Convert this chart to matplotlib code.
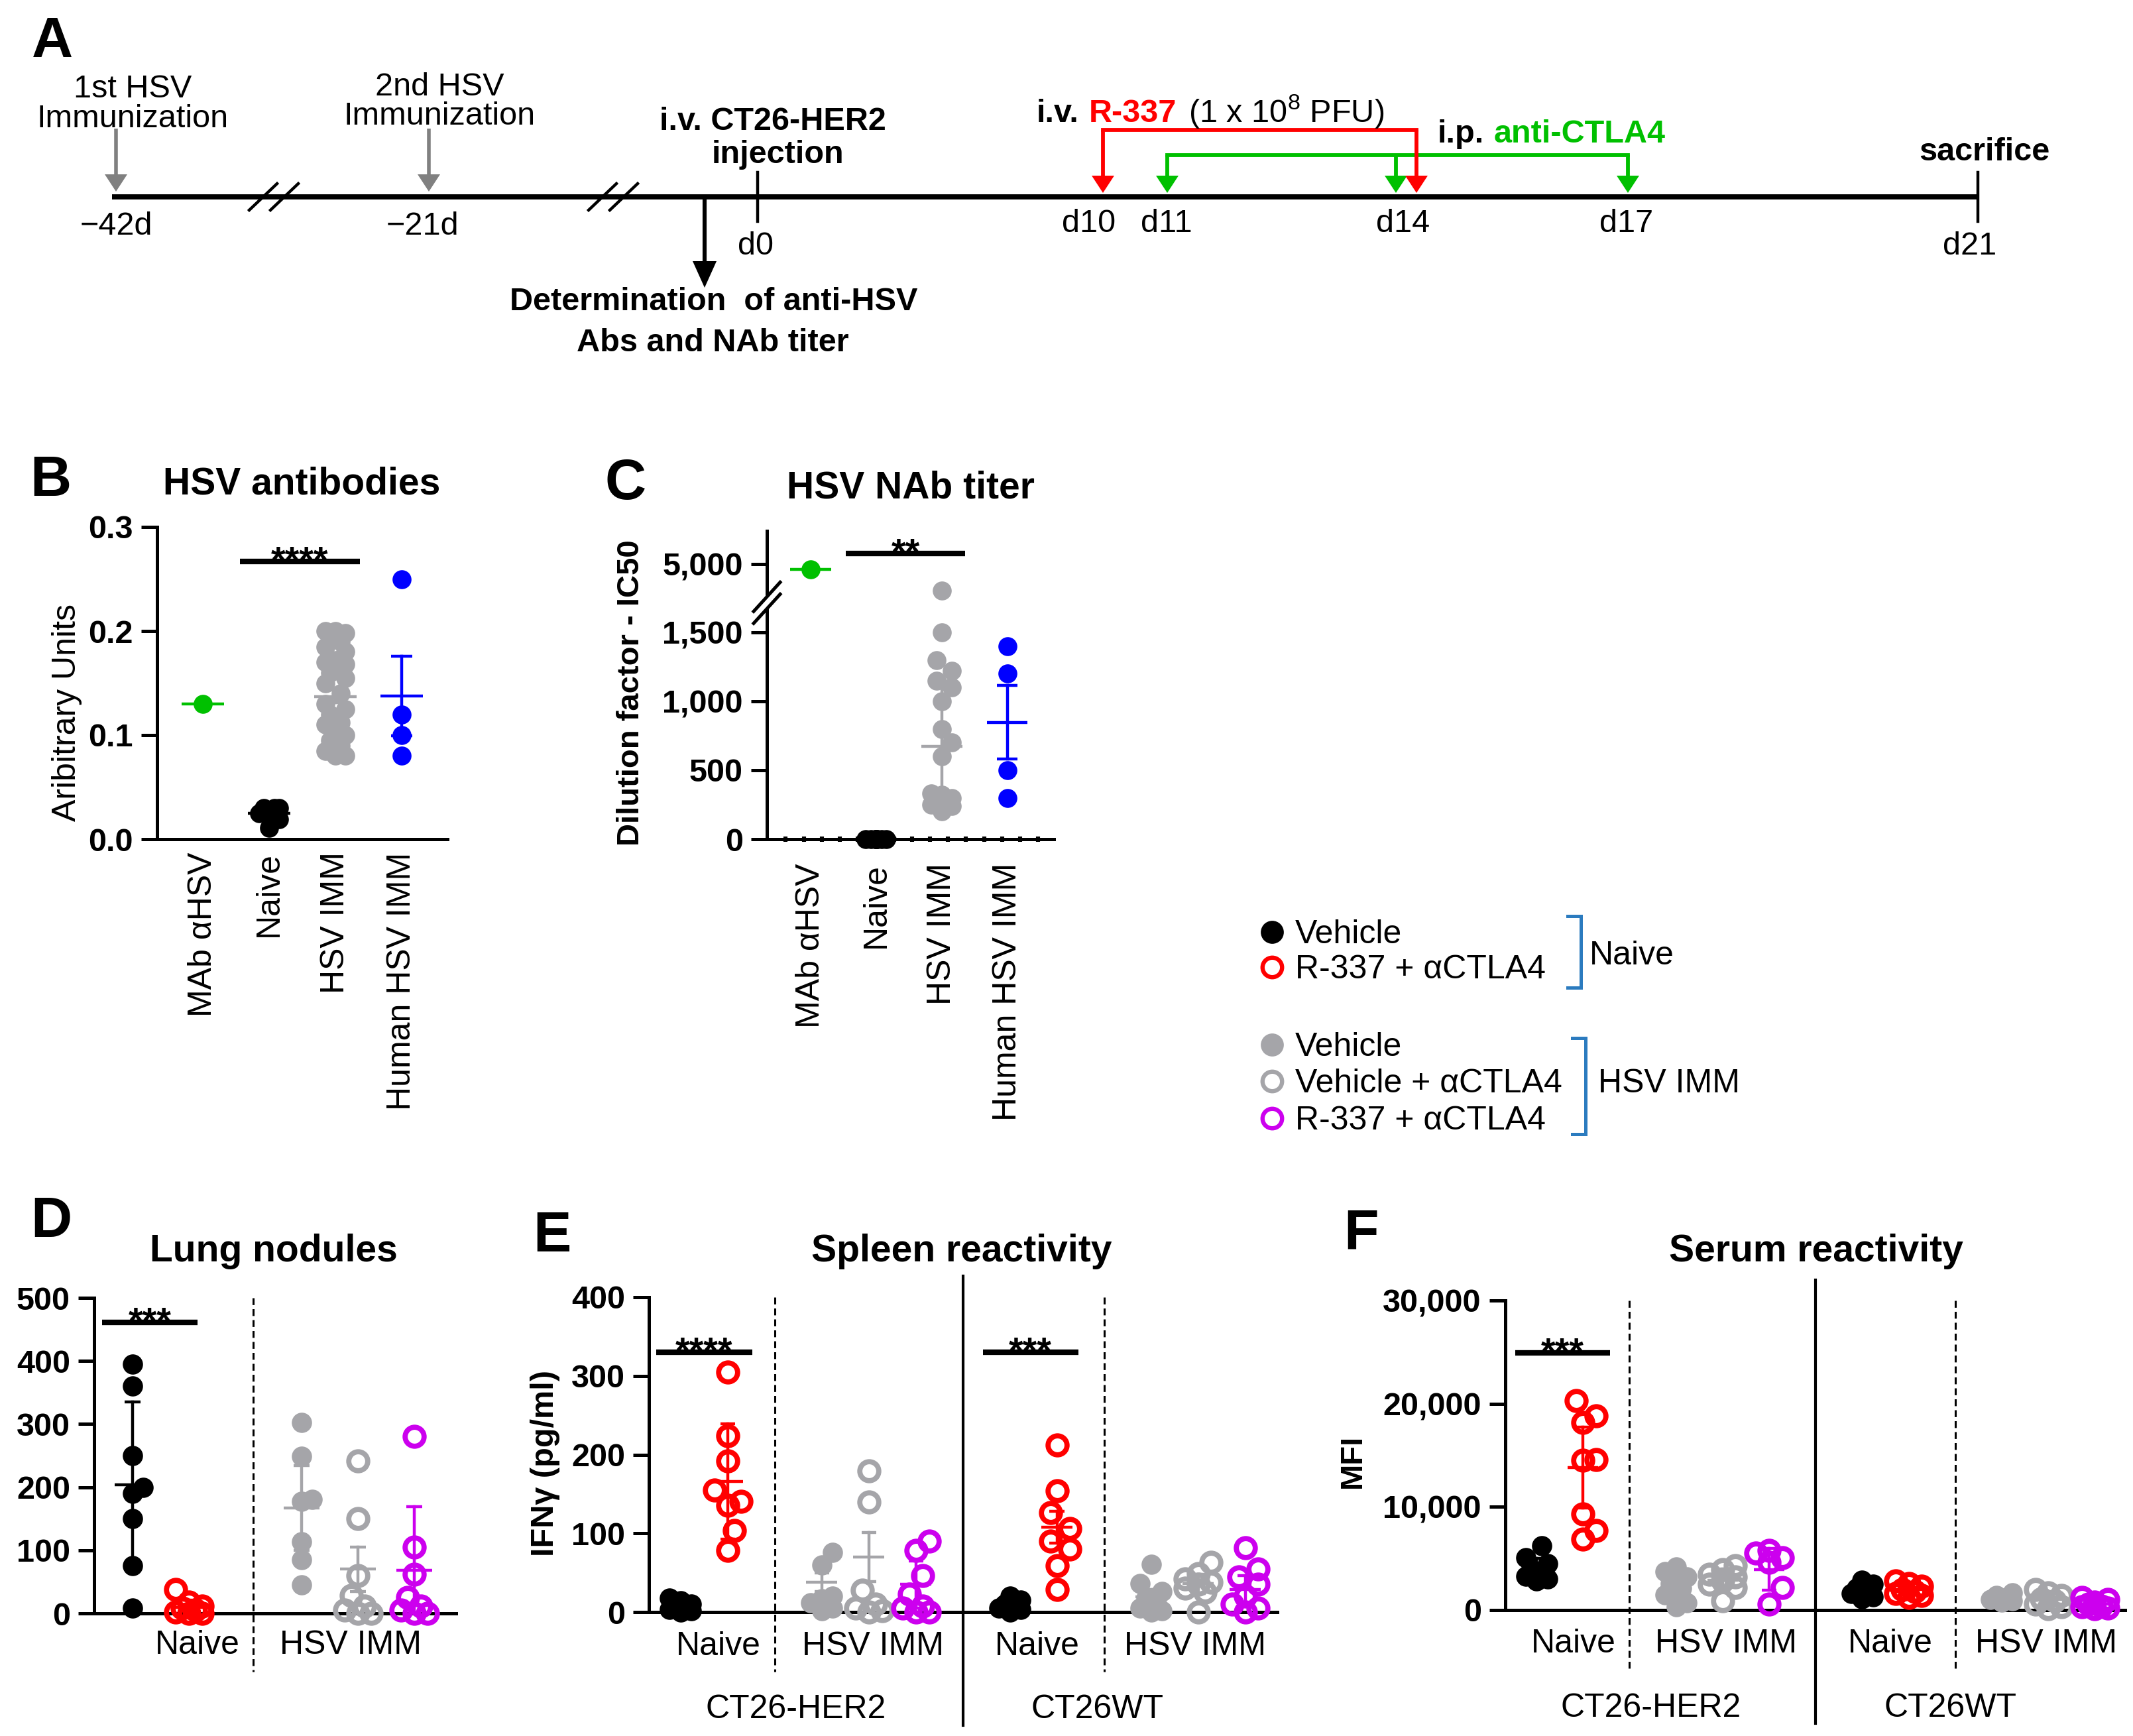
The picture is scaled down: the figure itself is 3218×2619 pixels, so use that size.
import numpy as np
import matplotlib
matplotlib.use("Agg")
import matplotlib.pyplot as plt
from matplotlib.patches import Polygon
from matplotlib.transforms import blended_transform_factory as btf

plt.rcParams['font.family'] = ['Liberation Sans', 'DejaVu Sans']
plt.rcParams['mathtext.fontset'] = 'custom'
plt.rcParams['mathtext.rm'] = 'Liberation Sans'
plt.rcParams['mathtext.it'] = 'Liberation Sans:italic'
plt.rcParams['mathtext.bf'] = 'Liberation Sans:bold'

# ---------------- data ----------------
# Panel A timeline
day_labels = ['\u221242d', '\u221221d', 'd0', 'd10', 'd11', 'd14', 'd17', 'd21']

# Panel B: HSV antibodies (arbitrary units)
b_cats = ['MAb \u03b1HSV', 'Naive', 'HSV IMM', 'Human HSV IMM']
b_mab = [0.13]
b_naive = [0.030, 0.030, 0.030, 0.028, 0.025, 0.019, 0.011]
b_hsv = [0.200, 0.200, 0.198, 0.195, 0.190, 0.185, 0.180, 0.172, 0.170, 0.168,
         0.160, 0.155, 0.150, 0.140, 0.130, 0.125, 0.120, 0.112, 0.110, 0.100,
         0.100, 0.095, 0.090, 0.085, 0.080, 0.080]
b_human = [0.25, 0.12, 0.10, 0.08]
b_mean = [0.13, 0.025, 0.137, 0.1375]
b_err = [0.0, 0.003, 0.006, 0.038]

# Panel C: HSV NAb titer
c_cats = ['MAb \u03b1HSV', 'Naive', 'HSV IMM', 'Human HSV IMM']
c_mab = [4800]
c_naive = [0, 0, 0, 0, 0, 0, 0, 0]
c_hsv = [1800, 1500, 1300, 1220, 1150, 1100, 1000, 800, 700, 600, 330, 320,
         300, 300, 260, 250, 250, 240, 200]
c_human = [1400, 1200, 500, 300]
c_mean = [4800, 0, 674, 848]
c_err = [0, 0, 476, 265]

# Panel D: lung nodules
d_black = [395, 360, 250, 200, 190, 150, 76, 8]
d_red = [38, 18, 12, 8, 5, 2, 0, 0]
d_gray = [302, 249, 181, 178, 113, 85, 45]
d_grayo = [242, 150, 60, 28, 12, 5, 0, 0]
d_mag = [280, 105, 62, 25, 12, 5, 0, 0]
d_mean = [204, 9, 167, 70, 68]
d_err = [131, 12, 67, 35, 101]

# Panel E: spleen reactivity IFNg (pg/ml)
e_her2_black = [18, 14, 10, 8, 5, 3, 2, 0]
e_her2_red = [305, 224, 192, 155, 141, 136, 104, 78]
e_her2_gray = [76, 60, 20, 17, 12, 5, 2]
e_her2_grayo = [179, 140, 28, 10, 5, 2, 0]
e_her2_mag = [90, 78, 46, 23, 8, 5, 0, 0]
e_wt_black = [20, 15, 10, 8, 5, 3, 0]
e_wt_red = [212, 154, 126, 106, 90, 80, 59, 29]
e_wt_gray = [61, 36, 26, 18, 10, 5, 2, 0]
e_wt_grayo = [63, 49, 42, 38, 35, 30, 25, 0]
e_wt_mag = [82, 55, 45, 35, 20, 10, 5, 0]
e_mean = [8, 166, 38, 70, 35, 8, 108, 19, 36, 29]
e_err = [6, 73, 12, 31, 30, 5, 20, 10, 12, 17]

# Panel F: serum reactivity MFI
f_her2_black = [6200, 5100, 4500, 4000, 3500, 3300, 3000, 2800]
f_her2_red = [20300, 18800, 18150, 14600, 14500, 9300, 7700, 6900]
f_her2_gray = [4200, 3700, 3200, 2600, 2100, 1500, 700, 300]
f_her2_grayo = [4300, 3900, 3500, 3200, 2800, 2500, 2200, 900]
f_her2_mag = [5800, 5500, 5100, 4600, 2200, 600]
f_wt_black = [2900, 2500, 2100, 1800, 1600, 1300, 1100]
f_wt_red = [2800, 2600, 2300, 2000, 1800, 1600, 1400, 1200]
f_wt_gray = [1700, 1400, 1200, 1000, 900, 800]
f_wt_grayo = [2000, 1700, 1400, 1100, 900, 600, 300, 100]
f_wt_mag = [1200, 1000, 800, 600, 400, 300, 200, 100]
f_mean = [3900, 13800, 2170, 2900, 3950, 1900, 2000, 1150, 1000, 600]
f_err = [1100, 3900, 1300, 1100, 2000, 600, 550, 350, 600, 350]

group_pos = [0, 1, 3, 4, 5, 7, 8, 10, 11, 12]

# ---------------- styling ----------------
W, H, DPI = 3218, 2619, 200
PT = DPI / 72.0
BLACK = '#000000'
RED = '#FF0000'
GRAY = '#A5A5A9'
MAG = '#CC00EE'
GREEN = '#00C000'
BLUE = '#0000FF'
BRK = '#2B7BBF'
group_style = [(BLACK, True), (RED, False), (GRAY, True), (GRAY, False), (MAG, False)] * 2

fig = plt.figure(figsize=(W / DPI, H / DPI), dpi=DPI)
fig.patch.set_facecolor('white')


def rect(x0, y0, x1, y1):
    return [x0 / W, 1 - y1 / H, (x1 - x0) / W, (y1 - y0) / H]


ov = fig.add_axes([0, 0, 1, 1])
ov.set_xlim(0, W)
ov.set_ylim(H, 0)
ov.axis('off')
ov.set_zorder(5)

FS = 17.5


def swarm(ax, x0, vals, d, width=2, step=0.27):
    vals = np.asarray(vals, float)
    pts = np.column_stack([np.full(len(vals), float(x0)), vals])
    ys = ax.transData.transform(pts)[:, 1]
    ppu = ax.transData.transform((1, 0))[0] - ax.transData.transform((0, 0))[0]
    slots = [0.0]
    for k in range(1, width + 1):
        slots += [k * step * d, -k * step * d]
    placed = []
    off = np.zeros(len(vals))
    for i in np.argsort(vals, kind='stable'):
        best, bestd = 0.0, -1
        for s in slots:
            md = min([np.hypot(s - px, ys[i] - py) for px, py in placed], default=1e9)
            if md >= 0.85 * d:
                best = s
                break
            if md > bestd:
                bestd, best = md, s
        placed.append((best, ys[i]))
        off[i] = best / ppu
    return x0 + off


def draw_group(ax, x0, vals, color, filled, msf=11, mso=10.3, mew=2.8):
    d = msf * PT if filled else (mso + mew) * PT
    xs = swarm(ax, x0, vals, d)
    if filled:
        ax.plot(xs, vals, 'o', ms=msf, mfc=color, mec=color, mew=0, ls='none',
                clip_on=False, zorder=3)
    else:
        ax.plot(xs, vals, 'o', ms=mso, mfc='none', mec=color, mew=mew, ls='none',
                clip_on=False, zorder=3)


def draw_mean(ax, x0, m, e, color, hw, chw, lw=1.6):
    ax.plot([x0 - hw, x0 + hw], [m, m], color=color, lw=lw, solid_capstyle='butt',
            zorder=4, clip_on=False)
    if e > 0:
        lo = max(m - e, 0)
        ax.plot([x0, x0], [lo, m + e], color=color, lw=lw, zorder=4, clip_on=False)
        ax.plot([x0 - chw, x0 + chw], [m + e, m + e], color=color, lw=lw,
                solid_capstyle='butt', zorder=4, clip_on=False)
        if m - e > 0:
            ax.plot([x0 - chw, x0 + chw], [m - e, m - e], color=color, lw=lw,
                    solid_capstyle='butt', zorder=4, clip_on=False)


def sig(ax, x0, x1, y, stars):
    ax.plot([x0, x1], [y, y], color='k', lw=3, solid_capstyle='butt', clip_on=False)
    ax.annotate(stars, xy=((x0 + x1) / 2, y), xytext=(0, -5.5), textcoords='offset points',
                ha='center', va='baseline', fontsize=20, fontweight='bold',
                annotation_clip=False)


def base_axes(ax, yticks, ylabels):
    for s in ['top', 'right']:
        ax.spines[s].set_visible(False)
    for s in ['left', 'bottom']:
        ax.spines[s].set_linewidth(1.8)
    ax.set_yticks(yticks, ylabels, fontweight='bold', fontsize=FS)
    ax.tick_params(axis='y', length=8.5, width=1.8, pad=4.5)
    ax.tick_params(axis='x', length=0)


def arrow_down(x, y0, y1, color, lw, hl, hw):
    ov.plot([x, x], [y0, y1 - hl + 2], color=color, lw=lw, solid_capstyle='butt')
    ov.add_patch(Polygon([[x - hw / 2, y1 - hl], [x + hw / 2, y1 - hl], [x, y1]],
                         closed=True, facecolor=color, edgecolor='none'))


def chain(parts, x, y, fs=FS):
    r = fig.canvas.get_renderer()
    for txt, color, weight, gap in parts:
        t = ov.text(x, y, txt, color=color, fontsize=fs, fontweight=weight,
                    ha='left', va='baseline')
        x = t.get_window_extent(r).x1 + gap


# ---------------- Panel A (timeline schematic) ----------------
tl_y = 297
ov.plot([169, 2984], [tl_y, tl_y], color='k', lw=2.8, solid_capstyle='butt')
for xc in (413, 925):
    for dx in (-16, 16):
        ov.plot([xc + dx - 21, xc + dx + 21], [tl_y + 20, tl_y - 20], color='k', lw=1.6)
day_x = [175, 637, 1140, 1643, 1760, 2117, 2454, 2972]
day_base = [354, 354, 384, 350, 350, 350, 350, 384]
for lab, x, yb in zip(day_labels, day_x, day_base):
    ov.text(x, yb, lab, fontsize=FS, ha='center', va='baseline')
for x in (1143, 2984):
    ov.plot([x, x], [260, 334], color='k', lw=1.6)

arrow_down(175, 194, 289, '#808080', 2.0, 26, 34)
arrow_down(647, 194, 289, '#808080', 2.0, 26, 34)
arrow_down(1063, tl_y, 434, 'k', 2.2, 40, 36)

# green anti-CTLA4 bracket
g_x = [1761, 2106, 2456]
ov.plot([g_x[0], g_x[-1]], [234, 234], color=GREEN, lw=2.1, solid_capstyle='projecting')
for x in g_x:
    arrow_down(x, 234, 291, GREEN, 2.1, 26, 34)
# red R-337 bracket
r_x = [1664, 2137]
ov.plot([r_x[0], r_x[-1]], [196, 196], color=RED, lw=2.1, solid_capstyle='projecting')
for x in r_x:
    arrow_down(x, 196, 291, RED, 2.1, 26, 34)

ov.text(48, 86, 'A', fontsize=31, fontweight='bold', ha='left', va='baseline')
ov.text(200, 147, '1st HSV', fontsize=FS, ha='center', va='baseline')
ov.text(200, 192, 'Immunization', fontsize=FS, ha='center', va='baseline')
ov.text(663, 144, '2nd HSV', fontsize=FS, ha='center', va='baseline')
ov.text(663, 188, 'Immunization', fontsize=FS, ha='center', va='baseline')
ov.text(1166, 196, 'i.v. CT26-HER2', fontsize=FS, fontweight='bold', ha='center', va='baseline')
ov.text(1173, 246, 'injection', fontsize=FS, fontweight='bold', ha='center', va='baseline')
ov.text(1077, 468, 'Determination  of anti-HSV', fontsize=FS, fontweight='bold',
        ha='center', va='baseline')
ov.text(1075, 530, 'Abs and NAb titer', fontsize=FS, fontweight='bold', ha='center', va='baseline')
ov.text(2994, 242, 'sacrifice', fontsize=FS, fontweight='bold', ha='center', va='baseline')
sp = 0.30 * FS * PT
chain([('i.v.', 'k', 'bold', sp), ('R-337', RED, 'bold', sp + 4),
       ('(1 x 10$^{8}$ PFU)', 'k', 'normal', 0)], 1564, 184)
chain([('i.p.', 'k', 'bold', sp), ('anti-CTLA4', GREEN, 'bold', 0)], 2169, 215)

# ---------------- Panel B ----------------
axB = fig.add_axes(rect(237, 795, 675, 1266))
axB.set_xlim(-0.69, 3.69)
axB.set_ylim(0, 0.3)
base_axes(axB, [0, 0.1, 0.2, 0.3], ['0.0', '0.1', '0.2', '0.3'])
axB.set_xticks(range(4), b_cats, rotation=90, fontsize=18)
axB.tick_params(axis='x', pad=7)
for i, (vals, col) in enumerate(zip([b_mab, b_naive, b_hsv, b_human], [GREEN, BLACK, GRAY, BLUE])):
    draw_group(axB, i, vals, col, True, msf=10.3)
    draw_mean(axB, i, b_mean[i], b_err[i], col, 0.32, 0.16)
sig(axB, 0.56, 2.37, 0.2666, '****')
ov.text(101, 1075, 'Aribitrary Units', fontsize=18, rotation=90, ha='center', va='center')
ov.text(455, 746, 'HSV antibodies', fontsize=20.5, fontweight='bold', ha='center', va='baseline')
ov.text(45, 748, 'B', fontsize=31, fontweight='bold', ha='left', va='baseline')

# ---------------- Panel C ----------------
def c_fwd(v):
    v = np.asarray(v, float)
    return np.where(v <= 1850, v, np.where(v <= 4500, 1850 + (v - 1850) * (50 / 2650),
                                           1900 + (v - 4500) * 0.19))


def c_inv(p):
    p = np.asarray(p, float)
    return np.where(p <= 1850, p, np.where(p <= 1900, 1850 + (p - 1850) * (2650 / 50),
                                           4500 + (p - 1900) / 0.19))


axC = fig.add_axes(rect(1157, 801, 1590, 1266))
axC.set_yscale('function', functions=(c_fwd, c_inv))
axC.set_xlim(-0.667, 3.71)
axC.set_ylim(0, 6263)
base_axes(axC, [0, 500, 1000, 1500, 5000], ['0', '500', '1,000', '1,500', '5,000'])
axC.yaxis.set_minor_locator(matplotlib.ticker.NullLocator())
axC.set_xticks(range(4), c_cats, rotation=90, fontsize=18)
axC.set_xticks(np.arange(-0.38, 3.5, 0.275), minor=True)
axC.tick_params(axis='x', which='major', pad=13)
axC.tick_params(axis='x', which='minor', length=2.6, width=2.2, direction='inout')
for i, (vals, col) in enumerate(zip([c_mab, c_naive, c_hsv, c_human], [GREEN, BLACK, GRAY, BLUE])):
    draw_group(axC, i, vals, col, True, msf=10.3)
    draw_mean(axC, i, c_mean[i], c_err[i], col, 0.31, 0.155)
sig(axC, 0.535, 2.36, 5410, '**')
# axis break marks on the left spine
yb = H - axC.transData.transform((0, 1714))[1]
xb = W * axC.get_position().x0
ov.plot([xb - 7, xb + 7], [yb + 7.7, yb - 7.7], color='white', lw=3.2, solid_capstyle='butt')
for off in (-9, 9):
    ov.plot([xb - 20, xb + 20], [yb + off + 22, yb + off - 22], color='k', lw=1.8)
ov.text(952, 1045, 'Dilution factor - IC50', fontsize=17, fontweight='bold', rotation=90,
        ha='center', va='center')
ov.text(1374, 751, 'HSV NAb titer', fontsize=20.5, fontweight='bold', ha='center', va='baseline')
ov.text(913, 753, 'C', fontsize=31, fontweight='bold', ha='left', va='baseline')

# ---------------- Legend ----------------
leg_labels = ['Vehicle', 'R-337 + \u03b1CTLA4', 'Vehicle', 'Vehicle + \u03b1CTLA4', 'R-337 + \u03b1CTLA4']
leg_y = [1406, 1459, 1576, 1631, 1687]
for (col, filled), lab, y in zip(group_style[:5], leg_labels, leg_y):
    if filled:
        ov.plot([1919], [y], 'o', ms=12.5, mfc=col, mec=col, mew=0)
    else:
        ov.plot([1919], [y], 'o', ms=10.6, mfc='none', mec=col, mew=2.3)
    ov.text(1954, y + 17, lab, fontsize=18, ha='left', va='baseline')
ov.plot([2365, 2385, 2385, 2365], [1382, 1382, 1490, 1490], color=BRK, lw=1.8,
        solid_joinstyle='miter')
ov.plot([2372, 2392, 2392, 2372], [1566, 1566, 1711, 1711], color=BRK, lw=1.8,
        solid_joinstyle='miter')
ov.text(2398, 1455, 'Naive', fontsize=18, ha='left', va='baseline')
ov.text(2411, 1648, 'HSV IMM', fontsize=18, ha='left', va='baseline')


# ---------------- Panels D, E, F ----------------
def group_panel(ax, datas, means, errs, hw=0.33, chw=0.15):
    for i, vals in enumerate(datas):
        col, filled = group_style[i]
        draw_group(ax, group_pos[i], vals, col, filled)
        draw_mean(ax, group_pos[i], means[i], errs[i], col, hw, chw)


def vline(ax, x, y0, y1, dashed):
    tr = btf(ax.transData, ax.transAxes)
    if dashed:
        ax.plot([x, x], [y0, y1], transform=tr, color='k', lw=1.1, dashes=(3.4, 2.0),
                clip_on=False)
    else:
        ax.plot([x, x], [y0, y1], transform=tr, color='k', lw=1.5, clip_on=False)


# D
axD = fig.add_axes(rect(142, 1958, 688, 2434))
axD.set_xlim(-0.682, 5.741)
axD.set_ylim(0, 500)
base_axes(axD, [0, 100, 200, 300, 400, 500], ['0', '100', '200', '300', '400', '500'])
axD.set_xticks([1.15, 3.87], ['Naive', 'HSV IMM'], fontsize=18)
axD.tick_params(axis='x', pad=9)
group_panel(axD, [d_black, d_red, d_gray, d_grayo, d_mag], d_mean, d_err, 0.32, 0.14)
vline(axD, 2.14, 1.0, -0.185, True)
sig(axD, -0.54, 1.15, 461, '***')
ov.text(413, 1903, 'Lung nodules', fontsize=20.5, fontweight='bold', ha='center', va='baseline')
ov.text(46, 1866, 'D', fontsize=31, fontweight='bold', ha='left', va='baseline')

# E
axE = fig.add_axes(rect(979, 1957, 1927, 2432))
axE.set_xlim(-0.676, 12.68)
axE.set_ylim(0, 400)
base_axes(axE, [0, 100, 200, 300, 400], ['0', '100', '200', '300', '400'])
axE.set_xticks([0.8, 4.08, 7.58, 10.94], ['Naive', 'HSV IMM', 'Naive', 'HSV IMM'], fontsize=18)
axE.tick_params(axis='x', pad=10.5)
group_panel(axE, [e_her2_black, e_her2_red, e_her2_gray, e_her2_grayo, e_her2_mag,
                  e_wt_black, e_wt_red, e_wt_gray, e_wt_grayo, e_wt_mag], e_mean, e_err, 0.33, 0.16)
vline(axE, 2.0, 1.0, -0.19, True)
vline(axE, 9.0, 1.0, -0.19, True)
vline(axE, 6.0, 1.067, -0.36, False)
sig(axE, -0.52, 1.52, 330, '****')
sig(axE, 6.42, 8.45, 330, '***')
trE = btf(axE.transData, axE.transAxes)
axE.text(2.44, -0.337, 'CT26-HER2', transform=trE, fontsize=18, ha='center', va='baseline')
axE.text(8.86, -0.337, 'CT26WT', transform=trE, fontsize=18, ha='center', va='baseline')
ov.text(823, 2207, 'IFN\u03b3 (pg/ml)', fontsize=17.5, fontweight='bold', rotation=90,
        ha='center', va='center')
ov.text(1451, 1903, 'Spleen reactivity', fontsize=20.5, fontweight='bold', ha='center', va='baseline')
ov.text(804, 1888, 'E', fontsize=31, fontweight='bold', ha='left', va='baseline')

# F
axF = fig.add_axes(rect(2271, 1962, 3206, 2429))
axF.set_xlim(-0.67, 12.65)
axF.set_ylim(0, 30000)
base_axes(axF, [0, 10000, 20000, 30000], ['0', '10,000', '20,000', '30,000'])
axF.set_xticks([0.8, 4.07, 7.6, 10.96], ['Naive', 'HSV IMM', 'Naive', 'HSV IMM'], fontsize=18)
axF.tick_params(axis='x', pad=10)
group_panel(axF, [f_her2_black, f_her2_red, f_her2_gray, f_her2_grayo, f_her2_mag,
                  f_wt_black, f_wt_red, f_wt_gray, f_wt_grayo, f_wt_mag], f_mean, f_err, 0.33, 0.16)
vline(axF, 2.0, 1.0, -0.195, True)
vline(axF, 9.0, 1.0, -0.195, True)
vline(axF, 6.0, 1.066, -0.366, False)
sig(axF, -0.46, 1.58, 24900, '***')
trF = btf(axF.transData, axF.transAxes)
axF.text(2.46, -0.345, 'CT26-HER2', transform=trF, fontsize=18, ha='center', va='baseline')
axF.text(8.89, -0.345, 'CT26WT', transform=trF, fontsize=18, ha='center', va='baseline')
ov.text(2041, 2204, 'MFI', fontsize=17, fontweight='bold', rotation=90, ha='center', va='center')
ov.text(2740, 1903, 'Serum reactivity', fontsize=20.5, fontweight='bold', ha='center', va='baseline')
ov.text(2027, 1885, 'F', fontsize=31, fontweight='bold', ha='left', va='baseline')

fig.savefig('out.png', dpi=DPI, facecolor='white')
